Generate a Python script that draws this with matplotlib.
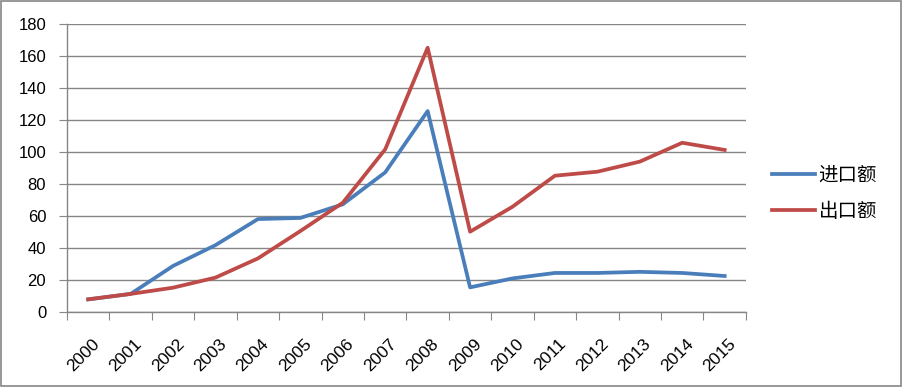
import matplotlib
matplotlib.use("Agg")
import matplotlib.pyplot as plt
from matplotlib.patches import Rectangle

plt.rcParams["font.family"] = ["Liberation Sans", "Noto Sans CJK SC", "DejaVu Sans"]

# 数据
years = [str(y) for y in range(2000, 2016)]
imports = [8.1, 11.5, 29, 42, 58.3, 59, 67.5, 87.5, 125.8,
           15.6, 21.2, 24.6, 24.6, 25.3, 24.6, 22.7]
exports = [8.1, 11.5, 15.4, 21.7, 33.7, 50.8, 68.5, 101.9, 165.4,
           50.4, 66, 85.4, 87.9, 94.2, 106, 101.5]
series_names = ["进口额", "出口额"]
yticks = list(range(0, 181, 20))

blue = "#4A7EBB"
red = "#BE4B48"
grid_c = "#868686"

fig = plt.figure(figsize=(9.03, 3.87), dpi=100)
ax = fig.add_axes([0.0742, 0.193, 0.7518, 0.744])

x = range(len(years))
ax.plot(x, imports, color=blue, lw=2.7, label=series_names[0])
ax.plot(x, exports, color=red, lw=2.7, label=series_names[1])

ax.set_xlim(-0.5, len(years) - 0.5)
ax.set_ylim(0, 180)
ax.set_yticks(yticks)
ax.set_yticklabels([str(v) for v in yticks], fontsize=12)

# 主刻度在类别之间，次刻度放年份标签
ax.set_xticks([i - 0.5 for i in range(len(years) + 1)], minor=False)
ax.set_xticklabels([""] * (len(years) + 1))
ax.set_xticks([i + 0.08 for i in x], minor=True)
ax.set_xticklabels(years, minor=True, rotation=45, ha="right", va="top",
                   rotation_mode="anchor", fontsize=12.5)
ax.tick_params(axis="x", which="minor", length=0, pad=17)
ax.tick_params(axis="x", which="major", length=6, color=grid_c, direction="out")
ax.tick_params(axis="y", length=6, color=grid_c, direction="out", pad=9)

ax.grid(axis="y", color=grid_c, lw=1)
ax.set_axisbelow(True)
for s in ["top", "right"]:
    ax.spines[s].set_visible(False)
for s in ["left", "bottom"]:
    ax.spines[s].set_color(grid_c)
    ax.spines[s].set_linewidth(1)

fig.legend(loc="center left", bbox_to_anchor=(0.855, 0.50), frameon=False,
           borderaxespad=0, borderpad=0,
           handlelength=2.2, labelspacing=0.8, handletextpad=0.2,
           prop={"family": ["Noto Sans CJK SC"], "size": 14})

fig.patches.append(Rectangle((0.001, 0.002), 0.997, 0.995, transform=fig.transFigure,
                             fill=False, edgecolor=grid_c, lw=1.2))

fig.savefig("out.png", dpi=100)
